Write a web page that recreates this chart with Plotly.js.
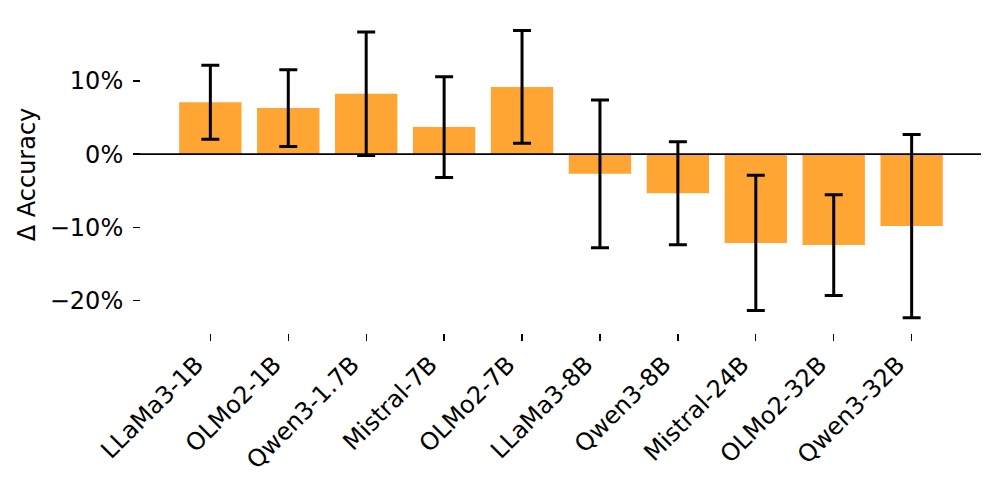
<!DOCTYPE html>
<html>
<head>
<meta charset="utf-8">
<script src="https://cdn.plot.ly/plotly-3.0.1.min.js"></script>
<style>html,body{margin:0;padding:0;background:#fff;}#chart{width:997px;height:488px;}</style>
</head>
<body>
<div id="chart"></div>
<script>
const models = ["LLaMa3-1B", "OLMo2-1B", "Qwen3-1.7B", "Mistral-7B", "OLMo2-7B", "LLaMa3-8B", "Qwen3-8B", "Mistral-24B", "OLMo2-32B", "Qwen3-32B"];
const deltaAccuracy = [7.1, 6.3, 8.25, 3.7, 9.2, -2.7, -5.35, -12.15, -12.45, -9.85];
const errorHalfWidth = [5.05, 5.25, 8.45, 6.9, 7.7, 10.1, 7.05, 9.25, 6.9, 12.55];
const yTickValues = [-20, -10, 0, 10];
const yTickLabels = yTickValues.map(v => (v < 0 ? '\u2212' : '') + Math.abs(v) + '%');

const trace = {
  type: 'bar',
  x: models,
  y: deltaAccuracy,
  width: 0.8,
  marker: {color: '#FFA533', line: {width: 0}},
  error_y: {type: 'data', array: errorHalfWidth, visible: true, color: '#000000', thickness: 3, width: 9},
  hoverinfo: 'x+y'
};

const font = {family: 'DejaVu Sans, sans-serif', size: 24, color: '#000000'};

const layout = {
  width: 997,
  height: 488,
  margin: {l: 140.7, r: 16.3, t: 16, b: 155.3, pad: 0},
  paper_bgcolor: '#ffffff',
  plot_bgcolor: '#ffffff',
  font: font,
  showlegend: false,
  xaxis: {
    type: 'category',
    range: [-0.89, 9.89],
    showline: false, showgrid: false, zeroline: false,
    ticks: 'outside', ticklen: 7, tickwidth: 1.3, tickcolor: '#000000',
    tickangle: -45,
    ticklabelshift: -14,
    ticklabelstandoff: 0,
    tickfont: font,
    automargin: false
  },
  yaxis: {
    range: [-24.48, 18.9],
    showline: false, showgrid: false, zeroline: false,
    tickvals: yTickValues,
    ticktext: yTickLabels,
    ticks: 'outside', ticklen: 7, tickwidth: 1.3, tickcolor: '#000000',
    ticklabelstandoff: 5,
    tickfont: font,
    title: {text: 'Δ Accuracy', font: font, standoff: 7},
    automargin: false
  },
  shapes: [{
    type: 'line', xref: 'paper', yref: 'y',
    x0: -0.009, x1: 1, y0: 0, y1: 0,
    line: {color: '#000000', width: 1.6}
  }]
};

Plotly.newPlot('chart', [trace], layout, {displayModeBar: false, staticPlot: true});
</script>
</body>
</html>
